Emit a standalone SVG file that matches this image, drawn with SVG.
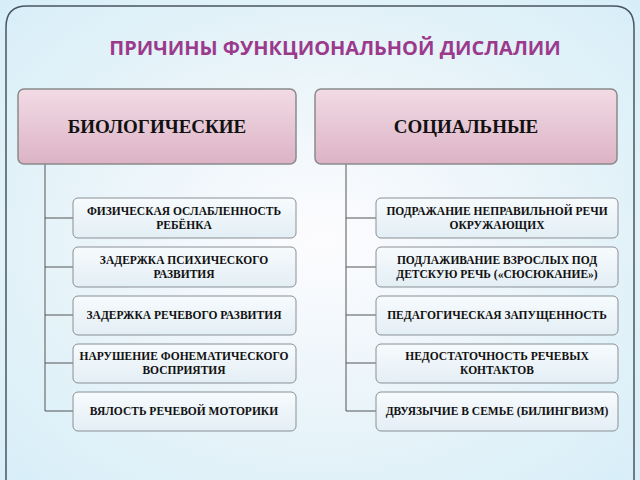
<svg xmlns="http://www.w3.org/2000/svg" width="640" height="480" viewBox="0 0 640 480">
<defs>
<radialGradient id="bg" cx="50%" cy="50%" r="70%"><stop offset="0" stop-color="#fdfcfe"/><stop offset="0.6" stop-color="#e6f3f9"/><stop offset="1" stop-color="#d7eef8"/></radialGradient>
<linearGradient id="hd" x1="0" y1="0" x2="0" y2="1"><stop offset="0" stop-color="#f2dbe5"/><stop offset="1" stop-color="#dcb3c5"/></linearGradient>
<linearGradient id="ch" x1="0" y1="0" x2="0" y2="1"><stop offset="0" stop-color="#f7fbfd"/><stop offset="1" stop-color="#e3eef5"/></linearGradient>
</defs>
<style>
.hd{fill:url(#hd);stroke:#8a8a8a;stroke-width:1.5}
.ch{fill:url(#ch);stroke:#8a8f96;stroke-width:1}
.ht{font-family:"Liberation Serif",serif;font-weight:bold;font-size:19px;text-anchor:middle;fill:#111}
.ct{font-family:"Liberation Serif",serif;font-weight:bold;font-size:11.5px;text-anchor:middle;fill:#111}
.cn{fill:none;stroke:#555;stroke-width:1}
</style>
<rect width="640" height="480" fill="url(#bg)"/>
<path d="M6 490 V27 Q6 6 27 6 H613 Q634 6 634 27 V490" fill="none" stroke="#4a5560" stroke-width="1.5"/>
<text x="335" y="55" font-family="Open Sans,Liberation Sans,sans-serif" font-weight="bold" font-size="20" fill="#9b3a8c" text-anchor="middle">ПРИЧИНЫ ФУНКЦИОНАЛЬНОЙ ДИСЛАЛИИ</text>
<g id="connectors">
<path class="cn" d="M45 164 V411 M45 218 H73 M45 267 H73 M45 315 H73 M45 363 H73 M45 411 H73"/>
<path class="cn" d="M346 164 V411 M346 218 H376 M346 267 H376 M346 315 H376 M346 363 H376 M346 411 H376"/>
</g>
<g id="bio"><rect class="hd" x="18" y="89" width="278" height="75" rx="6"/><text class="ht" x="157" y="133">БИОЛОГИЧЕСКИЕ</text></g>
<g id="soc"><rect class="hd" x="315" y="89" width="302" height="75" rx="6"/><text class="ht" x="466" y="133">СОЦИАЛЬНЫЕ</text></g>
<g id="b1"><rect class="ch" x="73" y="198" width="223" height="40" rx="5"/><text class="ct" x="184" y="215">ФИЗИЧЕСКАЯ ОСЛАБЛЕННОСТЬ</text><text class="ct" x="184" y="229">РЕБЁНКА</text></g>
<g id="b2"><rect class="ch" x="73" y="247" width="223" height="40" rx="5"/><text class="ct" x="184" y="264">ЗАДЕРЖКА ПСИХИЧЕСКОГО</text><text class="ct" x="184" y="278">РАЗВИТИЯ</text></g>
<g id="b3"><rect class="ch" x="73" y="296" width="223" height="39" rx="5"/><text class="ct" x="184" y="319">ЗАДЕРЖКА РЕЧЕВОГО РАЗВИТИЯ</text></g>
<g id="b4"><rect class="ch" x="73" y="344" width="223" height="39" rx="5"/><text class="ct" x="184" y="360">НАРУШЕНИЕ ФОНЕМАТИЧЕСКОГО</text><text class="ct" x="184" y="374">ВОСПРИЯТИЯ</text></g>
<g id="b5"><rect class="ch" x="73" y="392" width="223" height="39" rx="5"/><text class="ct" x="184" y="415">ВЯЛОСТЬ РЕЧЕВОЙ МОТОРИКИ</text></g>
<g id="s1"><rect class="ch" x="376" y="198" width="242" height="40" rx="5"/><text class="ct" x="497" y="215">ПОДРАЖАНИЕ НЕПРАВИЛЬНОЙ РЕЧИ</text><text class="ct" x="497" y="229">ОКРУЖАЮЩИХ</text></g>
<g id="s2"><rect class="ch" x="376" y="247" width="242" height="40" rx="5"/><text class="ct" x="497" y="264">ПОДЛАЖИВАНИЕ ВЗРОСЛЫХ ПОД</text><text class="ct" x="497" y="278">ДЕТСКУЮ РЕЧЬ («СЮСЮКАНИЕ»)</text></g>
<g id="s3"><rect class="ch" x="376" y="296" width="242" height="39" rx="5"/><text class="ct" x="497" y="319">ПЕДАГОГИЧЕСКАЯ ЗАПУЩЕННОСТЬ</text></g>
<g id="s4"><rect class="ch" x="376" y="344" width="242" height="39" rx="5"/><text class="ct" x="497" y="360">НЕДОСТАТОЧНОСТЬ РЕЧЕВЫХ</text><text class="ct" x="497" y="374">КОНТАКТОВ</text></g>
<g id="s5"><rect class="ch" x="376" y="392" width="242" height="39" rx="5"/><text class="ct" x="497" y="415">ДВУЯЗЫЧИЕ В СЕМЬЕ (БИЛИНГВИЗМ)</text></g>
</svg>
